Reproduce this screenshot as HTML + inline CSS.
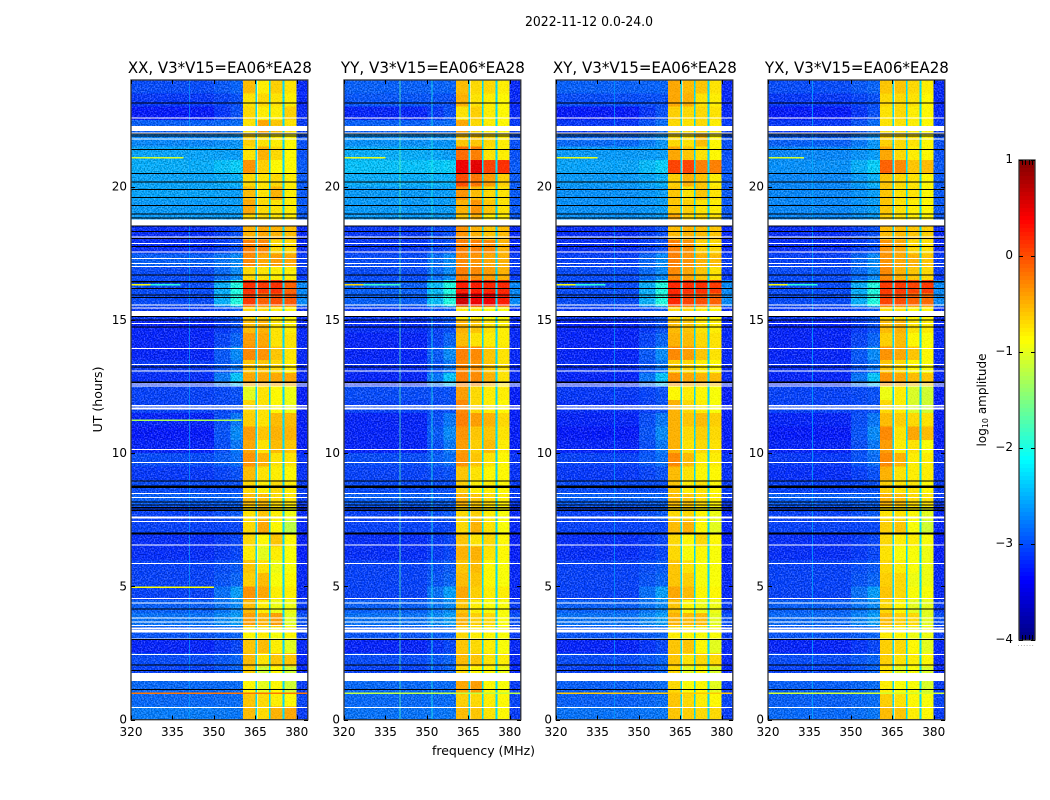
<!DOCTYPE html>
<html lang="en">
<head>
<meta charset="utf-8">
<title>2022-11-12 0.0-24.0</title>
<style>
html,body{margin:0;padding:0;background:#fff;width:1050px;height:800px;overflow:hidden}
svg{display:block}
text{font-family:"DejaVu Sans","Liberation Sans",sans-serif;fill:#000}
.cell{shape-rendering:crispEdges}
.tick{stroke:#000;stroke-width:1;shape-rendering:crispEdges}
</style>
</head>
<body>
<svg id="chart" xmlns="http://www.w3.org/2000/svg" width="1050" height="800" viewBox="0 0 1050 800">
  <defs>
    <filter id="speckle" x="0" y="0" width="100%" height="100%" color-interpolation-filters="sRGB">
      <feTurbulence type="fractalNoise" baseFrequency="0.7" numOctaves="1" seed="7"/>
      <feColorMatrix type="matrix" values="3 0 0 0 -1  3 0 0 0 -1  3 0 0 0 -1  0 0 0 0 1"/>
    </filter>
  </defs>
  <text x="589" y="26" text-anchor="middle" font-size="13" textLength="128" lengthAdjust="spacingAndGlyphs">2022-11-12 0.0-24.0</text>
  <text x="483.5" y="755" text-anchor="middle" font-size="12" textLength="103" lengthAdjust="spacingAndGlyphs">frequency (MHz)</text>
  <text transform="translate(102,399.5) rotate(-90)" text-anchor="middle" font-size="12" textLength="66" lengthAdjust="spacingAndGlyphs">UT (hours)</text>
  <text transform="translate(986,400) rotate(-90)" text-anchor="middle" font-size="12">log<tspan font-size="8" dy="2">10</tspan><tspan dy="-2"> amplitude</tspan></text>
  <g id="panels"></g>
  <g id="colorbar"></g>
  <text x="1026" y="646" text-anchor="middle" font-size="7" style="fill:#888" letter-spacing="0.6">......</text>
</svg>
<script>
const panelNames = ["XX", "YY", "XY", "YX"];
const panelTitle = ", V3*V15=EA06*EA28";
const xTicks = [320, 335, 350, 365, 380];
const yTicks = [0, 5, 10, 15, 20];
const colorbarTicks = [1, 0, -1, -2, -3, -4];
const channelEdges = [320, 350, 356, 360.5, 365, 365.7, 369.9, 370.5, 374.9, 375.6, 379.9, 384];
const channelRoles = ["bg", "blend", "ramp", "b1", "gap", "b2", "gap", "b3", "gap", "b4", "edge"];
const gapLevel = -2.3;
const backgroundTrim = -0.22;

/* log10 amplitude per half-hour bin, 24 h down to 0 h: [background, subband 1..4] */
const ampXX = [
[-2.8,-0.55,-0.8,-0.65,-0.75],[-2.9,-0.75,-0.7,-0.75,-0.8],[-3.05,-0.7,-0.8,-0.8,-0.65],[-2.7,-0.75,-0.45,-0.6,-0.75],
[-2.5,-0.65,-0.75,-0.8,-0.85],[-2.35,-0.75,-0.5,-0.7,-0.85],[-2.3,-0.35,-0.65,-0.85,-0.85],[-2.35,-0.7,-0.75,-0.7,-0.8],
[-2.35,-0.55,-0.75,-0.5,-0.8],[-2.4,-0.45,-0.7,-0.75,-0.8],[-2.4,-0.7,-0.7,-0.75,-0.8],[-2.95,-0.5,-0.45,-0.5,-0.55],
[-2.95,-0.25,-0.3,-0.7,-0.7],[-2.7,-0.3,-0.45,-0.4,-0.45],[-2.8,-0.7,-0.75,-0.8,-0.8],[-2.8,0.15,0.1,0.15,-0.1],
[-2.8,0.1,-0.1,0,-0.05],[-2.9,-0.7,-0.7,-0.8,-0.85],[-3,-0.55,-0.5,-0.75,-0.8],[-3,-0.4,-0.45,-0.75,-0.75],
[-3,-0.3,-0.35,-0.6,-0.75],[-2.9,-0.6,-0.6,-0.7,-0.8],[-2.95,-0.45,-0.45,-0.45,-0.45],[-2.85,-1,-0.75,-0.85,-0.95],
[-2.85,-0.7,-0.75,-0.85,-0.95],[-3,-0.65,-0.75,-0.55,-0.55],[-3.05,-0.4,-0.6,-0.5,-0.5],[-3,-0.45,-0.75,-0.55,-0.6],
[-2.8,-0.35,-0.5,-0.75,-0.75],[-2.9,-0.55,-0.75,-0.8,-0.85],[-2.8,-0.7,-0.8,-0.7,-0.8],[-2.7,-0.55,-0.55,-0.7,-0.75],
[-2.85,-0.75,-0.6,-0.8,-0.95],[-2.85,-0.7,-0.45,-0.85,-1.2],[-2.95,-0.7,-0.85,-0.6,-0.85],[-2.95,-0.8,-1,-0.8,-0.9],
[-2.85,-0.6,-0.75,-0.95,-0.9],[-2.85,-0.65,-0.55,-0.9,-0.85],[-2.85,-0.35,-0.45,-0.8,-0.8],[-2.7,-0.55,-0.8,-0.95,-0.95],
[-2.6,-0.4,-0.5,-0.4,-1],[-2.75,-0.85,-0.8,-0.9,-0.85],[-3,-0.6,-0.55,-0.8,-1],[-2.8,-0.55,-0.75,-0.6,-0.6],
[-2.85,-0.65,-1.1,-0.85,-1.1],[-2.65,-0.85,-1,-0.85,-1.1],[-2.65,-0.6,-0.7,-0.8,-0.85],[-2.55,-0.55,-0.7,-0.5,-0.45]
];
const ampYY = [
[-2.7,-0.55,-0.7,-0.7,-0.8],[-2.75,-0.5,-0.75,-0.8,-0.85],[-3,-0.75,-0.65,-0.8,-0.85],[-2.7,-0.45,-0.7,-0.8,-0.85],
[-2.45,-0.6,-0.6,-0.7,-0.8],[-2.3,-0.15,-0.25,-0.75,-0.8],[-2.2,0.45,0.5,0.05,0.15],[-2.3,0,-0.2,-0.4,-0.65],
[-2.4,-0.35,-0.55,-0.7,-0.75],[-2.4,-0.5,-0.35,-0.6,-0.75],[-2.4,-0.6,-0.5,-0.8,-0.8],[-2.9,-0.35,-0.5,-0.6,-0.55],
[-2.9,-0.25,-0.25,-0.3,-0.5],[-2.8,-0.3,-0.35,-0.45,-0.5],[-2.8,-0.25,-0.3,-0.4,-0.5],[-2.7,0.25,0.25,0.2,0.2],
[-2.7,0.6,0.45,0.45,0.25],[-2.9,-0.8,-0.8,-0.9,-0.9],[-2.95,-0.5,-0.6,-0.75,-0.8],[-3,-0.55,-0.75,-0.8,-0.8],
[-3,-0.25,-0.3,-0.6,-0.75],[-2.95,-0.3,-0.35,-0.6,-0.75],[-3,-0.25,-0.3,-0.5,-0.75],[-2.8,-0.4,-0.7,-0.8,-0.8],
[-2.85,-0.3,-0.7,-0.8,-0.85],[-3,-0.25,-0.4,-0.5,-0.7],[-3,-0.35,-0.6,-0.6,-0.75],[-3,-0.4,-0.65,-0.55,-0.8],
[-2.8,-0.35,-0.6,-0.75,-0.85],[-2.85,-0.6,-0.75,-0.85,-0.85],[-2.8,-0.65,-0.8,-0.8,-0.85],[-2.7,-0.5,-0.6,-0.7,-0.8],
[-2.85,-0.7,-0.65,-0.8,-0.9],[-2.85,-0.7,-0.5,-0.75,-0.9],[-2.95,-0.6,-0.75,-0.7,-0.85],[-2.95,-0.5,-0.5,-0.75,-0.85],
[-2.85,-0.6,-0.55,-0.85,-0.9],[-2.85,-0.55,-0.6,-0.85,-0.9],[-2.85,-0.45,-0.65,-0.8,-0.8],[-2.7,-0.6,-0.8,-0.9,-0.9],
[-2.6,-0.5,-0.65,-0.7,-0.9],[-2.75,-0.7,-0.8,-0.85,-0.9],[-3,-0.6,-0.7,-0.8,-0.9],[-2.8,-0.55,-0.6,-0.75,-0.8],
[-2.85,-0.7,-0.85,-0.85,-0.95],[-2.65,-0.45,-0.4,-0.85,-0.9],[-2.65,-0.65,-0.7,-0.8,-0.85],[-2.6,-0.55,-0.6,-0.75,-0.85]
];
const ampXY = [
[-2.7,-0.45,-0.55,-0.6,-0.75],[-2.8,-0.45,-0.5,-0.75,-0.8],[-3.05,-0.65,-0.7,-0.7,-0.75],[-2.9,-0.7,-0.75,-0.7,-0.8],
[-2.65,-0.7,-0.75,-0.55,-0.85],[-2.4,-0.45,-0.6,-0.75,-0.85],[-2.35,0.05,0.05,-0.25,-0.25],[-2.4,-0.65,-0.5,-0.6,-0.8],
[-2.45,-0.6,-0.75,-0.6,-0.75],[-2.45,-0.6,-0.65,-0.75,-0.8],[-2.45,-0.45,-0.7,-0.7,-0.75],[-2.95,-0.55,-0.5,-0.55,-0.6],
[-2.95,-0.25,-0.35,-0.65,-0.7],[-2.85,-0.25,-0.35,-0.5,-0.55],[-2.8,-0.3,-0.45,-0.6,-0.75],[-2.8,0.2,0.15,0.15,0.1],
[-2.8,0.2,0.05,0,-0.1],[-2.9,-0.7,-0.7,-0.8,-0.85],[-3,-0.55,-0.6,-0.75,-0.8],[-3,-0.5,-0.55,-0.7,-0.75],
[-3,-0.3,-0.4,-0.6,-0.75],[-2.95,-0.65,-0.7,-0.8,-0.85],[-3,-0.35,-0.45,-0.5,-0.55],[-2.9,-0.85,-0.8,-0.85,-0.9],
[-2.95,-0.5,-0.7,-0.8,-0.9],[-3,-0.5,-0.6,-0.55,-0.65],[-3.05,-0.5,-0.7,-0.65,-0.7],[-3,-0.5,-0.75,-0.7,-0.75],
[-2.85,-0.3,-0.55,-0.8,-0.8],[-2.9,-0.55,-0.75,-0.85,-0.85],[-2.8,-0.6,-0.8,-0.75,-0.85],[-2.7,-0.55,-0.6,-0.7,-0.8],
[-2.85,-0.7,-0.7,-0.85,-0.95],[-2.85,-0.55,-0.5,-0.85,-1],[-2.95,-0.7,-0.85,-0.7,-0.85],[-2.95,-0.7,-0.9,-0.85,-0.9],
[-2.85,-0.6,-0.75,-0.9,-0.9],[-2.85,-0.6,-0.65,-0.9,-0.9],[-2.85,-0.45,-0.55,-0.85,-0.85],[-2.7,-0.6,-0.85,-0.95,-0.95],
[-2.6,-0.5,-0.55,-0.55,-1],[-2.75,-0.8,-0.85,-0.9,-0.9],[-3,-0.6,-0.6,-0.85,-1],[-2.8,-0.6,-0.75,-0.7,-0.7],
[-2.85,-0.7,-1,-0.85,-1.05],[-2.7,-0.7,-0.9,-0.85,-1],[-2.7,-0.6,-0.7,-0.8,-0.85],[-2.6,-0.6,-0.65,-0.7,-0.7]
];
const ampYX = [
[-2.8,-0.6,-0.6,-0.7,-0.8],[-2.9,-0.7,-0.7,-0.75,-0.85],[-3.05,-0.75,-0.7,-0.8,-0.85],[-2.9,-0.75,-0.75,-0.8,-0.85],
[-2.7,-0.65,-0.7,-0.75,-0.85],[-2.5,-0.45,-0.7,-0.8,-0.85],[-2.45,-0.1,-0.3,-0.6,-0.55],[-2.5,-0.6,-0.7,-0.75,-0.85],
[-2.5,-0.6,-0.75,-0.75,-0.85],[-2.5,-0.6,-0.75,-0.8,-0.85],[-2.5,-0.65,-0.75,-0.8,-0.85],[-2.95,-0.55,-0.55,-0.6,-0.65],
[-2.95,-0.35,-0.45,-0.7,-0.75],[-2.85,-0.35,-0.45,-0.5,-0.6],[-2.8,-0.3,-0.5,-0.6,-0.7],[-2.8,0.1,0.1,0.05,0.1],
[-2.8,0.05,0,-0.1,-0.15],[-2.9,-0.75,-0.75,-0.85,-0.85],[-3,-0.55,-0.5,-0.75,-0.8],[-3,-0.65,-0.55,-0.85,-0.9],
[-3,-0.35,-0.45,-0.6,-0.85],[-2.95,-0.6,-0.7,-0.85,-0.9],[-3,-0.35,-0.45,-0.55,-0.6],[-2.85,-0.95,-0.8,-1.05,-1.1],
[-2.85,-0.7,-0.8,-1.05,-1.1],[-3,-0.55,-0.65,-0.7,-0.75],[-3.05,-0.3,-0.75,-0.45,-0.55],[-3,-0.4,-0.8,-0.75,-0.9],
[-2.9,-0.3,-0.5,-0.8,-0.8],[-2.95,-0.5,-0.75,-0.8,-0.8],[-2.85,-0.65,-0.75,-0.75,-0.85],[-2.7,-0.5,-0.55,-0.7,-0.75],
[-2.85,-0.75,-0.75,-0.85,-1],[-2.85,-0.65,-0.6,-0.9,-1.1],[-2.95,-0.7,-0.8,-0.8,-0.9],[-2.95,-0.75,-0.9,-0.9,-0.95],
[-2.85,-0.7,-0.8,-0.9,-0.95],[-2.85,-0.65,-0.7,-0.95,-0.95],[-2.85,-0.6,-0.7,-0.9,-0.9],[-2.7,-0.7,-0.85,-1,-1],
[-2.65,-0.55,-0.65,-0.7,-1],[-2.75,-0.8,-0.85,-0.95,-0.95],[-3,-0.65,-0.7,-0.85,-1],[-2.8,-0.65,-0.75,-0.8,-0.85],
[-2.85,-0.75,-1,-0.9,-1.05],[-2.7,-0.8,-0.9,-0.9,-1.05],[-2.7,-0.65,-0.75,-0.85,-0.9],[-2.65,-0.55,-0.6,-0.8,-0.85]
];
const panelAmps = [ampXX, ampYY, ampXY, ampYX];
const rampLevels = [-2.9,-3,-3,-2.85,-2.65,-2.6,-2.35,-2.5,-2.6,-2.6,-2.6,-3,-3,-2.7,-2.7,-2,-2,-2.95,-3,-2.9,-2.7,-2.8,-2.4,-3,-3,-2.8,-2.7,-2.8,-2.85,-3,-3,-2.9,-2.95,-3.05,-3.05,-3.05,-2.95,-2.9,-2.6,-2.7,-2.6,-2.9,-3.05,-2.9,-2.9,-2.85,-2.85,-2.8];
const edgeLevels = [-3.2,-3.2,-3.2,-3.1,-3,-3,-2.95,-2.95,-2.95,-2.95,-2.95,-3.2,-3.2,-3.1,-3.1,-2.7,-2.7,-3.2,-3.2,-3.2,-3.2,-3.2,-3.2,-3.25,-3.25,-3.25,-3.25,-3.25,-3.15,-3.15,-3.1,-3.1,-3.2,-3.2,-3.25,-3.25,-3.2,-3.2,-3.2,-3.1,-3,-3.1,-3.2,-3.2,-3.2,-3.1,-3.05,-3.1];

/* flagged time ranges in UT hours: [start, end] */
const flaggedHours = [[22.55,22.59],[22.08,22.27],[22.0,22.03],[21.77,21.8],[18.55,18.77],[18.09,18.12],[17.85,17.88],[17.53,17.56],[17.3,17.33],[17.11,17.14],[17.0,17.03],
[15.55,15.58],[15.42,15.46],[15.13,15.33],[14.85,14.88],[13.92,13.95],[13.32,13.35],[13.07,13.1],[12.58,12.61],[12.5,12.53],[11.76,11.8],[11.64,11.71],[10.12,10.15],[9.64,9.67],[8.48,8.51],[8.33,8.36],
[7.55,7.62],[7.42,7.45],[6.55,6.58],[5.84,5.87],[4.53,4.56],[4.36,4.39],[3.8,3.83],[3.65,3.68],[3.53,3.56],[3.4,3.45],[3.27,3.38],[3.01,3.04],[2.44,2.47],[2.05,2.08],[1.45,1.76],[0.44,0.47]];
/* dropped-data time ranges in UT hours: [start, end] */
const blankHours = [[23.12,23.16],[21.96,22.0],[21.88,21.92],[21.39,21.42],[20.47,20.51],[20.17,20.2],[19.87,19.91],[19.57,19.61],[19.27,19.31],[18.97,19.0],[18.8,18.84],[18.5,18.54],[18.3,18.33],[18.04,18.07],[17.75,17.78],
[16.66,16.7],[16.41,16.45],[16.16,16.2],[15.91,15.95],[15.82,15.86],[15.1,15.14],[14.98,15.02],[14.72,14.76],[13.22,13.26],[12.64,12.68],[8.93,8.97],[8.7,8.79],[8.14,8.18],[8.04,8.08],[7.94,7.98],
[7.9,7.93],[7.84,7.87],[6.95,7.02],[4.13,4.17],[2.99,3.02],[2.04,2.07],[1.83,1.87],[1.12,1.15]];
/* narrow interference: [panel index, UT hour, from MHz, to MHz, log10 amplitude] */
const rfiLines = [
[0,16.35,320,327,-0.9],[0,16.35,327,338,-1.9],[1,16.35,320,327,-0.7],[1,16.35,327,340,-1.8],[2,16.35,320,327,-0.9],[2,16.35,327,338,-1.9],[3,16.35,320,327,-0.9],[3,16.35,327,338,-1.9],
[0,21.12,320,339,-1.1],[1,21.12,320,335,-1],[2,21.12,320,335,-1],[3,21.12,320,333,-1.1],
[0,1.02,320,384,-0.2],[1,1.02,320,384,-1.2],[2,1.02,320,384,-0.6],[3,1.02,320,384,-1.1],
[0,5.0,320,350,-0.9],[0,11.26,320,360,-1.3]
];
/* persistent channels: [panel index, MHz, log10 amplitude] */
const rfiChannels = [[1,340,-1.7],[1,351.6,-2],[0,341,-2.6],[2,341,-2.6],[3,336,-2.5]];

const panelLefts = [131, 344, 556, 768];
const panelWidth = 176.8;
const plotTop = 80, plotHeight = 639.7;
const NS = "http://www.w3.org/2000/svg";
function node(tag, parent) { const e = document.createElementNS(NS, tag); parent.appendChild(e); return e; }
function xScale(left, mhz) { return left + (mhz - 320) * panelWidth / 64; }
function yScale(hour) { return plotTop + (24 - hour) * plotHeight / 24; }
function clip01(v) { return Math.max(0, Math.min(1, v)); }
function jet(v) {
  const t = clip01((v + 4) / 5);
  const r = clip01(1.5 - Math.abs(4 * t - 3)), g = clip01(1.5 - Math.abs(4 * t - 2)), b = clip01(1.5 - Math.abs(4 * t - 1));
  return "rgb(" + Math.round(r * 255) + "," + Math.round(g * 255) + "," + Math.round(b * 255) + ")";
}
function columnValue(row, role, rIdx) {
  const bg = row[0] + backgroundTrim;
  if (role === "bg") return bg;
  if (role === "blend") return (bg + rampLevels[rIdx]) / 2;
  if (role === "ramp") return rampLevels[rIdx];
  if (role === "edge") return edgeLevels[rIdx];
  if (role === "gap") return gapLevel;
  return row[Number(role.charAt(1))];
}
const panelsG = document.getElementById("panels");
panelNames.forEach(function (name, p) {
  const left = panelLefts[p];
  const g = node("g", panelsG);
  
  
  const amps = panelAmps[p];
  amps.forEach(function (row, r) {
    const hi = 24 - r * 0.5, lo = hi - 0.5;
    channelRoles.forEach(function (role, c) {
      const cell = node("rect", g);
      
      
      cell.setAttribute("class", "cell");
      const x0 = xScale(left, channelEdges[c]), x1 = xScale(left, channelEdges[c + 1]);
      cell.setAttribute("x", x0.toFixed(2));
      cell.setAttribute("y", yScale(hi).toFixed(2));
      cell.setAttribute("width", (x1 - x0).toFixed(2));
      cell.setAttribute("height", (yScale(lo) - yScale(hi)).toFixed(2));
      cell.setAttribute("fill", jet(columnValue(row, role, r)));
    });
  });
  const tex = node("rect", g);
  
  
  tex.setAttribute("x", left); tex.setAttribute("y", plotTop);
  tex.setAttribute("width", (xScale(left, 360.5) - left).toFixed(2)); tex.setAttribute("height", plotHeight);
  tex.setAttribute("filter", "url(#speckle)");
  tex.setAttribute("opacity", "0.22");
  tex.setAttribute("style", "mix-blend-mode:hard-light");
  const texBand = node("rect", g);
  
  
  texBand.setAttribute("x", xScale(left, 360.5).toFixed(2)); texBand.setAttribute("y", plotTop);
  texBand.setAttribute("width", (xScale(left, 380) - xScale(left, 360.5)).toFixed(2)); texBand.setAttribute("height", plotHeight);
  texBand.setAttribute("filter", "url(#speckle)");
  texBand.setAttribute("opacity", "0.06");
  texBand.setAttribute("style", "mix-blend-mode:hard-light");
  const texEdge = node("rect", g);
  
  
  texEdge.setAttribute("x", xScale(left, 380).toFixed(2)); texEdge.setAttribute("y", plotTop);
  texEdge.setAttribute("width", (xScale(left, 384) - xScale(left, 380)).toFixed(2)); texEdge.setAttribute("height", plotHeight);
  texEdge.setAttribute("filter", "url(#speckle)");
  texEdge.setAttribute("opacity", "0.22");
  texEdge.setAttribute("style", "mix-blend-mode:hard-light");
  rfiChannels.filter(function (d) { return d[0] === p; }).forEach(function (d) {
    const chan = node("rect", g);
    
    
    chan.setAttribute("class", "cell");
    chan.setAttribute("x", xScale(left, d[1]).toFixed(2));
    chan.setAttribute("y", plotTop);
    chan.setAttribute("width", 1);
    chan.setAttribute("height", plotHeight);
    chan.setAttribute("fill", jet(d[2]));
    chan.setAttribute("opacity", "0.7");
  });
  rfiLines.filter(function (d) { return d[0] === p; }).forEach(function (d) {
    const line = node("rect", g);
    
    
    line.setAttribute("class", "cell");
    line.setAttribute("x", xScale(left, d[2]).toFixed(2));
    line.setAttribute("y", yScale(d[1]).toFixed(2));
    line.setAttribute("width", (xScale(left, d[3]) - xScale(left, d[2])).toFixed(2));
    line.setAttribute("height", 1.5);
    line.setAttribute("fill", jet(d[4]));
  });
  flaggedHours.forEach(function (d) {
    const band = node("rect", g);
    
    
    band.setAttribute("class", "cell");
    band.setAttribute("x", left);
    band.setAttribute("y", yScale(d[1]).toFixed(2));
    band.setAttribute("width", panelWidth);
    band.setAttribute("height", Math.max(1, yScale(d[0]) - yScale(d[1])).toFixed(2));
    band.setAttribute("fill", "#fff");
  });
  blankHours.forEach(function (d) {
    const band = node("rect", g);
    
    
    band.setAttribute("class", "cell");
    band.setAttribute("x", left);
    band.setAttribute("y", yScale(d[1]).toFixed(2));
    band.setAttribute("width", panelWidth);
    band.setAttribute("height", Math.max(1, yScale(d[0]) - yScale(d[1])).toFixed(2));
    band.setAttribute("fill", "#000");
  });
  const frame = node("rect", g);
  
  
  frame.setAttribute("x", left); frame.setAttribute("y", plotTop);
  frame.setAttribute("width", panelWidth); frame.setAttribute("height", plotHeight);
  frame.setAttribute("fill", "none");
  frame.setAttribute("stroke", "#333");
  frame.setAttribute("stroke-width", "1.3");
  const title = node("text", g);
  
  
  title.setAttribute("x", left + panelWidth / 2 + 0.5);
  title.setAttribute("y", 73);
  title.setAttribute("text-anchor", "middle");
  title.setAttribute("font-size", "16");
  title.setAttribute("textLength", "184");
  title.setAttribute("lengthAdjust", "spacingAndGlyphs");
  title.textContent = name + panelTitle;
  xTicks.forEach(function (t) {
    const x = Math.round(xScale(left, t)) + 0.5;
    [[plotTop + plotHeight, plotTop + plotHeight - 4], [plotTop, plotTop + 4]].forEach(function (s) {
      const tick = node("line", g);
      
      
      tick.setAttribute("class", "tick");
      tick.setAttribute("x1", x); tick.setAttribute("x2", x);
      tick.setAttribute("y1", s[0]); tick.setAttribute("y2", s[1]);
    });
    const lab = node("text", g);
    
    
    lab.setAttribute("x", xScale(left, t));
    lab.setAttribute("y", 736);
    lab.setAttribute("text-anchor", "middle");
    lab.setAttribute("font-size", "12");
    lab.textContent = t;
  });
  yTicks.forEach(function (t) {
    const y = Math.round(yScale(t)) + 0.5;
    [[left, left + 4], [left + panelWidth, left + panelWidth - 4]].forEach(function (s) {
      const tick = node("line", g);
      
      
      tick.setAttribute("class", "tick");
      tick.setAttribute("x1", s[0]); tick.setAttribute("x2", s[1]);
      tick.setAttribute("y1", y); tick.setAttribute("y2", y);
    });
    const lab = node("text", g);
    
    
    lab.setAttribute("x", left - 4);
    lab.setAttribute("y", yScale(t) + 4);
    lab.setAttribute("text-anchor", "end");
    lab.setAttribute("font-size", "12");
    lab.textContent = t;
  });
});

/* colorbar */
const cbG = document.getElementById("colorbar");
const cbLeft = 1019, cbWidth = 16, cbTop = 160, cbHeight = 480;
function cbY(v) { return cbTop + (1 - v) * cbHeight / 5; }
for (let i = 0; i < 120; i++) {
  const v = 1 - (i + 0.5) * 5 / 120;
  const seg = node("rect", cbG);
  
  
  seg.setAttribute("class", "cell");
  seg.setAttribute("x", cbLeft);
  seg.setAttribute("y", (cbTop + i * cbHeight / 120).toFixed(2));
  seg.setAttribute("width", cbWidth);
  seg.setAttribute("height", (cbHeight / 120 + 0.5).toFixed(2));
  seg.setAttribute("fill", jet(v));
}
const cbFrame = node("rect", cbG);


cbFrame.setAttribute("x", cbLeft); cbFrame.setAttribute("y", cbTop);
cbFrame.setAttribute("width", cbWidth); cbFrame.setAttribute("height", cbHeight);
cbFrame.setAttribute("fill", "none");
cbFrame.setAttribute("stroke", "#333");
cbFrame.setAttribute("stroke-width", "1.3");
colorbarTicks.forEach(function (t) {
  const y = Math.round(cbY(t)) + 0.5;
  [[cbLeft, cbLeft + 4], [cbLeft + cbWidth, cbLeft + cbWidth - 4]].forEach(function (s) {
    const tick = node("line", cbG);
    
    
    tick.setAttribute("class", "tick");
    tick.setAttribute("x1", s[0]); tick.setAttribute("x2", s[1]);
    tick.setAttribute("y1", y); tick.setAttribute("y2", y);
  });
  const lab = node("text", cbG);
  
  
  lab.setAttribute("x", 1013);
  lab.setAttribute("y", cbY(t) + 3);
  lab.setAttribute("text-anchor", "end");
  lab.setAttribute("font-size", "12");
  lab.textContent = t < 0 ? "\u2212" + (-t) : String(t);
});
[0.2, 0.4, 0.6, 0.8].forEach(function (f) {
  [[cbTop, cbTop + 5], [cbTop + cbHeight, cbTop + cbHeight - 5]].forEach(function (s) {
    const tick = node("line", cbG);
    
    
    tick.setAttribute("class", "tick");
    const x = Math.round(cbLeft + f * cbWidth) + 0.5;
    tick.setAttribute("x1", x); tick.setAttribute("x2", x);
    tick.setAttribute("y1", s[0]); tick.setAttribute("y2", s[1]);
  });
});
</script>
</body>
</html>
